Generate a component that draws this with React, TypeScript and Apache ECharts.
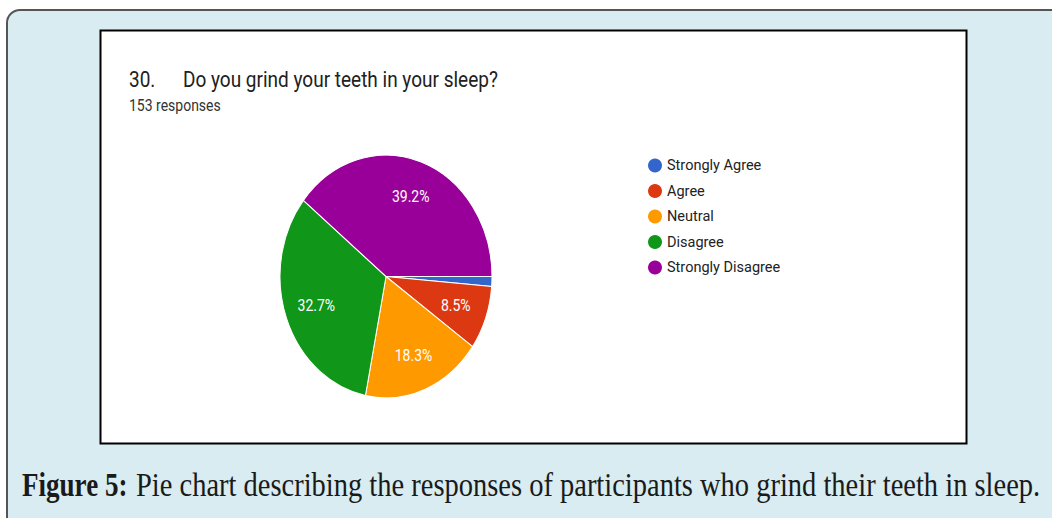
import React, { useEffect, useRef } from "react";
import * as echarts from "echarts";

const categories = ["Strongly Agree", "Agree", "Neutral", "Disagree", "Strongly Disagree"];
const responses = [2, 13, 28, 50, 60];
const sliceColors = ["#3366cc", "#dc3912", "#ff9900", "#109618", "#990099"];
const questionNumber = "30.";
const questionText = "Do you grind your teeth in your sleep?";
const responseCountText = "153 responses";
const captionBold = "Figure 5:";
const captionRest = "Pie chart describing the responses of participants who grind their teeth in sleep.";

const PIE_CX = 386;
const PIE_CY = 276.5;
const PIE_R = 106;
const PIE_SY = 1.145;

export default function App() {
  const ref = useRef<HTMLDivElement>(null);
  useEffect(() => {
    if (!ref.current) return;
    const chart = echarts.init(ref.current, null, { renderer: "svg" });
    const total = responses.reduce((a, b) => a + b, 0);
    const series = categories.map((name, i) => {
      const before = responses.slice(0, i).reduce((a, b) => a + b, 0);
      return {
        type: "custom",
        name,
        coordinateSystem: "none",
        itemStyle: { color: sliceColors[i] },
        data: [[responses[i]]],
        renderItem: (_params: any, api: any) => {
          const v = api.value(0);
          const a0 = (before / total) * Math.PI * 2;
          const a1 = a0 + (v / total) * Math.PI * 2;
          const mid = (a0 + a1) / 2;
          const frac = v / total;
          const children: any[] = [
            {
              type: "sector",
              shape: { cx: 0, cy: 0, r0: 0, r: PIE_R, startAngle: a0, endAngle: a1, clockwise: true },
              style: { fill: sliceColors[i], stroke: "#ffffff", lineWidth: 1, strokeNoScale: true },
            },
          ];
          if (frac >= 0.05) {
            children.push({
              type: "text",
              x: Math.cos(mid) * PIE_R * 0.7,
              y: Math.sin(mid) * PIE_R * 0.7,
              style: {
                text: (frac * 100).toFixed(1) + "%",
                fill: "#ffffff",
                fontSize: 14,
                fontFamily: "Roboto",
                align: "center",
                verticalAlign: "middle",
              },
            });
          }
          return { type: "group", x: PIE_CX, y: PIE_CY, scaleY: PIE_SY, children };
        },
      };
    });

    chart.setOption({
      animation: false,
      tooltip: { show: false },
      legend: {
        orient: "vertical",
        left: 648,
        top: 158,
        padding: 0,
        icon: "circle",
        itemWidth: 14,
        itemHeight: 14,
        itemGap: 10.5,
        data: categories,
        textStyle: { fontFamily: "Roboto", fontSize: 14.5, color: "#222222", lineHeight: 14 },
      },
      graphic: [
        {
          type: "rect",
          shape: { x: 7, y: 10, width: 1100, height: 600, r: [13, 0, 0, 0] },
          style: { fill: "#d8ecf1", stroke: "#555555", lineWidth: 2 },
          z: -10,
        },
        {
          type: "rect",
          shape: { x: 100.5, y: 30.5, width: 866, height: 413 },
          style: { fill: "#ffffff", stroke: "#000000", lineWidth: 2 },
          z: -9,
        },
        {
          type: "text",
          x: 129,
          y: 79.2,
          scaleY: 1.13,
          style: { text: questionNumber, fontFamily: "Roboto", fontSize: 19, fill: "#212121", align: "left", verticalAlign: "middle" },
        },
        {
          type: "text",
          x: 183,
          y: 79.2,
          scaleY: 1.13,
          style: { text: questionText, fontFamily: "Roboto", fontSize: 19, fill: "#212121", align: "left", verticalAlign: "middle" },
        },
        {
          type: "text",
          x: 129,
          y: 106,
          scaleY: 1.14,
          style: { text: responseCountText, fontFamily: "Roboto", fontSize: 14, fill: "#333333", align: "left", verticalAlign: "middle" },
        },
        {
          type: "text",
          x: 22,
          y: 484.5,
          scaleX: 0.796,
          style: { text: captionBold, fontFamily: "Liberation Serif", fontWeight: "bold", fontSize: 34, fill: "#1a1a1a", align: "left", verticalAlign: "middle" },
        },
        {
          type: "text",
          x: 136,
          y: 484.5,
          scaleX: 0.8376,
          style: { text: captionRest, fontFamily: "Liberation Serif", fontSize: 34, fill: "#1a1a1a", align: "left", verticalAlign: "middle" },
        },
      ],
      series,
    });
    return () => chart.dispose();
  }, []);
  return (
    <div
      ref={ref}
      style={{ position: "absolute", left: 0, top: 0, width: 1052, height: 518, background: "#ffffff" }}
    />
  );
}
